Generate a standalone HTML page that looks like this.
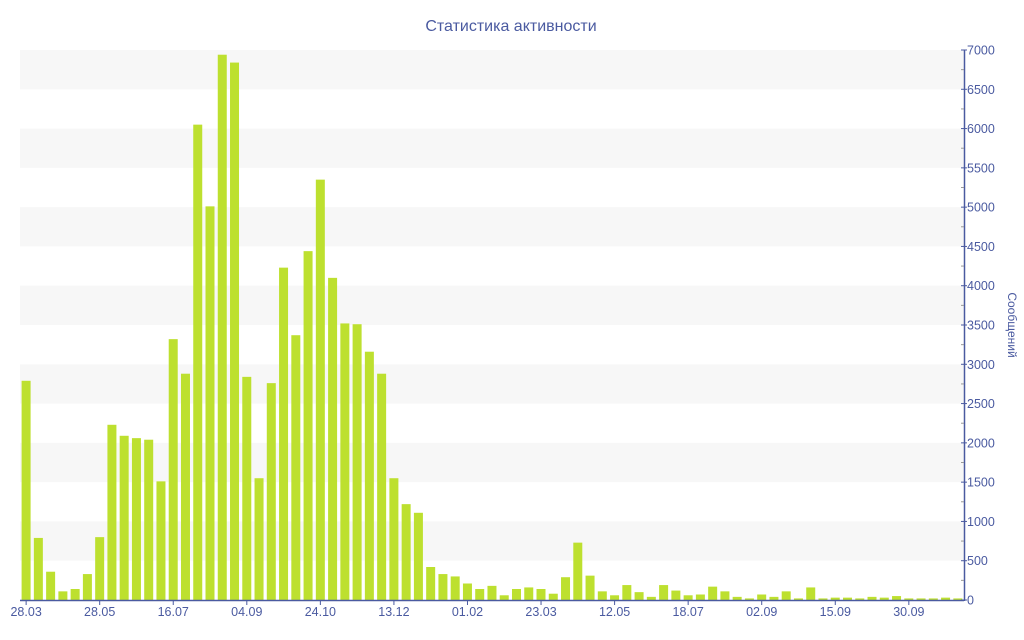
<!DOCTYPE html>
<html><head><meta charset="utf-8"><style>
html,body{margin:0;padding:0;background:#fff;}
svg{display:block;font-family:"Liberation Sans","DejaVu Sans",sans-serif;}
</style></head><body>
<svg id="c" width="1024" height="640" xmlns="http://www.w3.org/2000/svg">
<text x="511" y="31" text-anchor="middle" font-size="16" fill="#4a5aa0">Статистика активности</text>
<g id="bands"></g><g id="bars"></g><g id="axis"></g>
<text transform="translate(1008,325) rotate(90)" text-anchor="middle" font-size="12" fill="#4a5aa0">Сообщений</text>
</svg>
<script>
var ns="http://www.w3.org/2000/svg";
function el(p,t,a,txt){var e=document.createElementNS(ns,t);for(var k in a)e.setAttribute(k,a[k]);if(txt)e.textContent=txt;document.getElementById(p).appendChild(e);}
var y0=600,sc=550/7000,L=20,R=964;
for(var v=500;v<7000;v+=1000){el("bands","rect",{x:L,y:y0-(v+500)*sc,width:R-L,height:500*sc,fill:"#f7f7f7"});}
var d=[2790,790,360,110,140,330,800,2230,2090,2060,2040,1510,3320,2880,6050,5010,6940,6840,2840,1550,2760,4230,3370,4440,5350,4100,3520,3510,3160,2880,1550,1220,1110,420,330,300,210,140,180,60,140,160,140,80,290,730,310,110,60,190,100,40,190,120,60,70,170,110,40,20,70,40,110,20,160,20,30,30,20,40,30,50,20,20,20,30,20];
var bw=(R-L)/d.length;
d.forEach(function(v,i){var h=v*sc;el("bars","rect",{x:(L+i*bw+1.6).toFixed(2),y:(y0-h).toFixed(2),width:9,height:h.toFixed(2),fill:"#bde02f"});});
el("axis","line",{x1:L,y1:600.5,x2:R,y2:600.5,stroke:"#4a5aa0","stroke-width":1.5});
el("axis","line",{x1:964.5,y1:50,x2:964.5,y2:601,stroke:"#4a5aa0","stroke-width":1.5});
for(var v=0;v<=7000;v+=250){var y=y0-v*sc;el("axis","line",{x1:961,y1:y,x2:(v%500?964:967),y2:y,stroke:(v%500?"#999":"#4a5aa0")});
 if(v%500==0)el("axis","text",{x:967,y:y+4.5,"font-size":12.5,fill:"#4a5aa0"},String(v));}
var labs=["28.03","28.05","16.07","04.09","24.10","13.12","01.02","23.03","12.05","18.07","02.09","15.09","30.09"];
labs.forEach(function(t,j){var x=L+(j*6)*bw+bw/2;el("axis","line",{x1:x,y1:600,x2:x,y2:605,stroke:"#4a5aa0"});
 el("axis","text",{x:x,y:616,"text-anchor":"middle","font-size":12.5,fill:"#4a5aa0"},t);});
</script>
</body></html>
